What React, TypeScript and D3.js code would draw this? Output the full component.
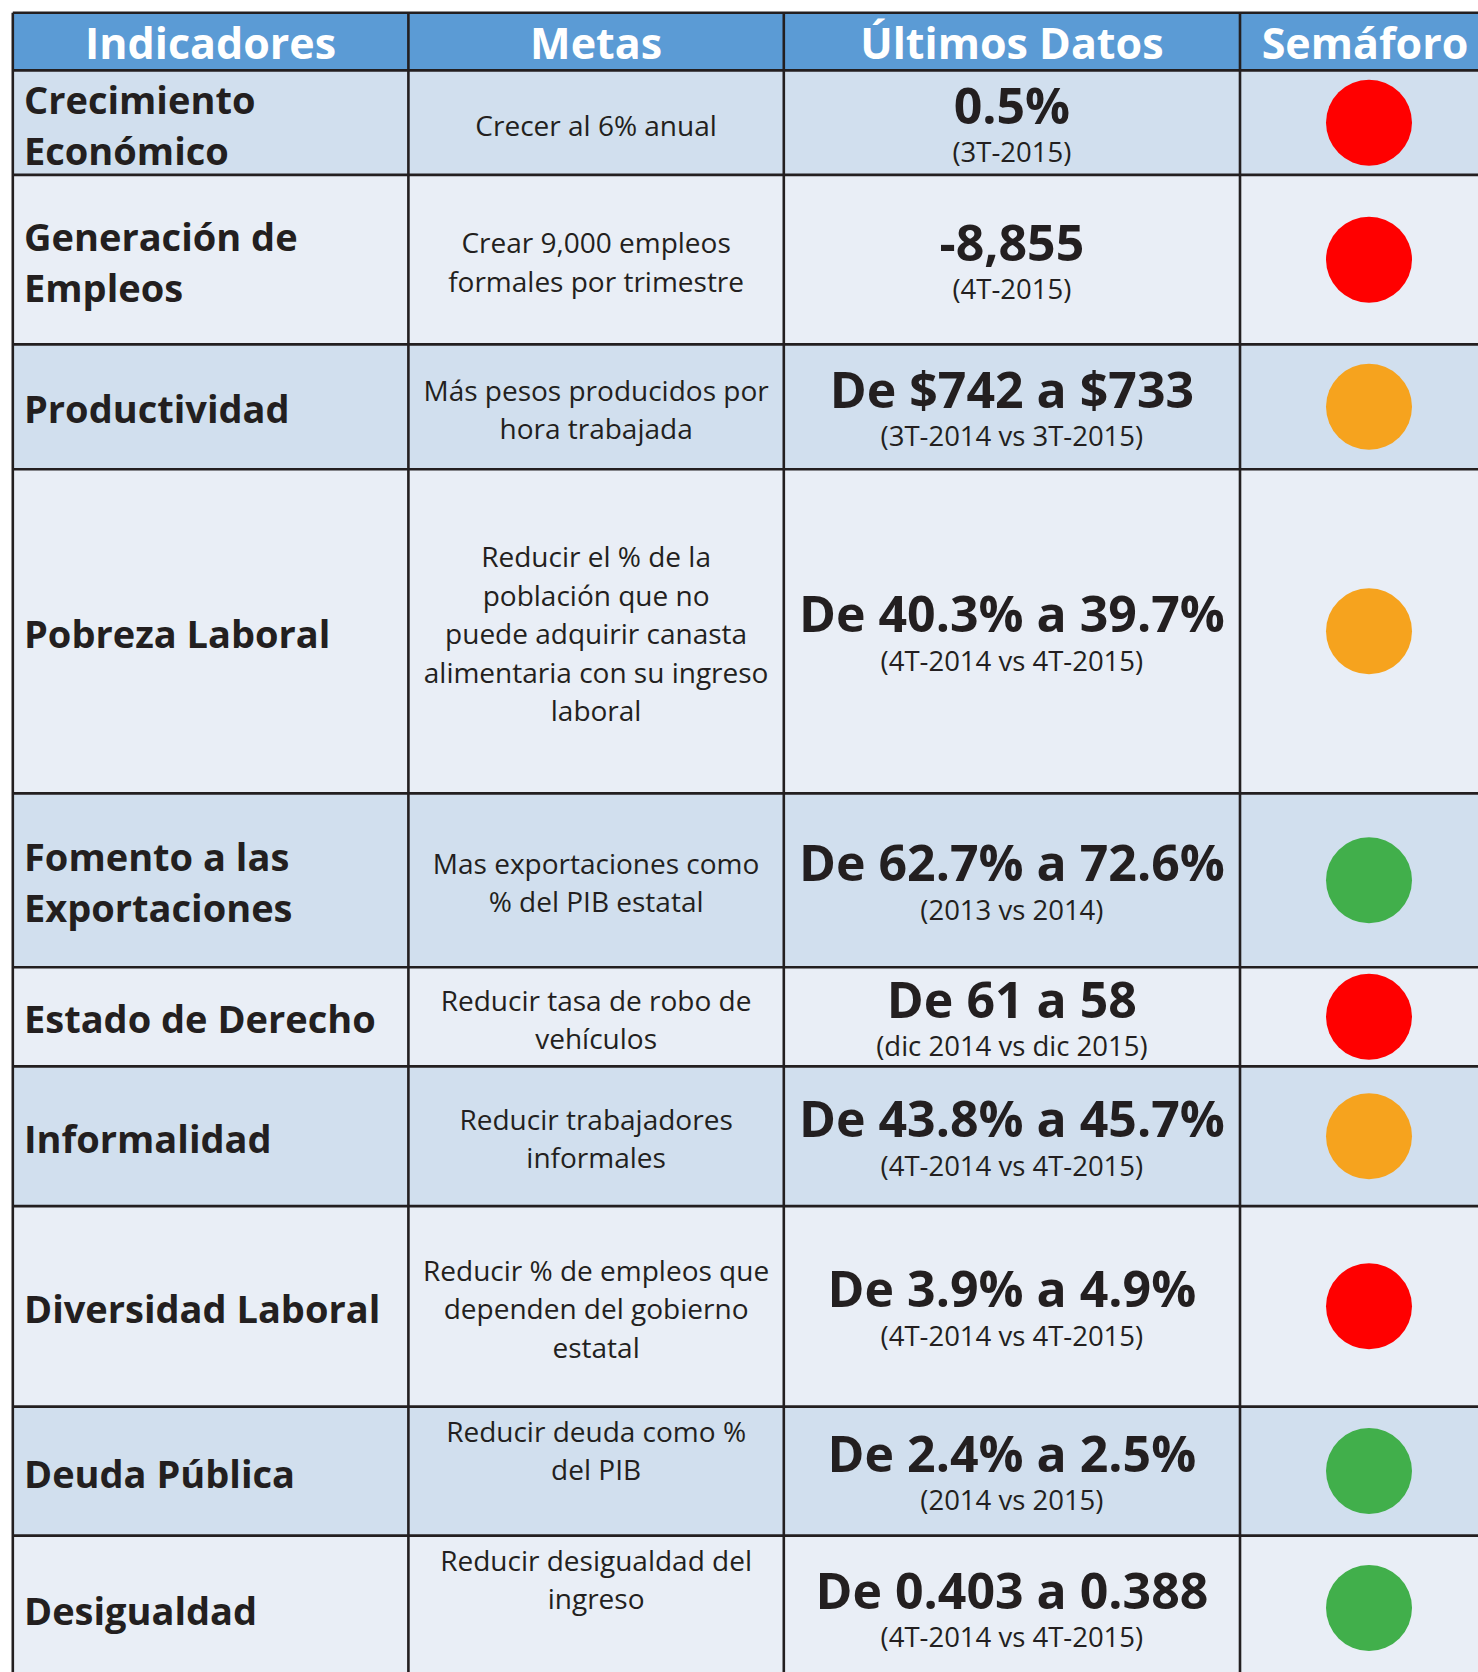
import * as d3 from 'd3';
import React from 'react';

// datos del semáforo
const encabezados = ['Indicadores', 'Metas', 'Últimos Datos', 'Semáforo'];

const indicadores: string[][] = [
  ['Crecimiento', 'Económico'],
  ['Generación de', 'Empleos'],
  ['Productividad'],
  ['Pobreza Laboral'],
  ['Fomento a las', 'Exportaciones'],
  ['Estado de Derecho'],
  ['Informalidad'],
  ['Diversidad Laboral'],
  ['Deuda Pública'],
  ['Desigualdad'],
];

const metas: string[][] = [
  ['Crecer al 6% anual'],
  ['Crear 9,000 empleos', 'formales por trimestre'],
  ['Más pesos producidos por', 'hora trabajada'],
  ['Reducir el % de la', 'población que no', 'puede adquirir canasta', 'alimentaria con su ingreso', 'laboral'],
  ['Mas exportaciones como', '% del PIB estatal'],
  ['Reducir tasa de robo de', 'vehículos'],
  ['Reducir trabajadores', 'informales'],
  ['Reducir % de empleos que', 'dependen del gobierno', 'estatal'],
  ['Reducir deuda como %', 'del PIB'],
  ['Reducir desigualdad del', 'ingreso'],
];

const ultimosDatos = [
  '0.5%', '-8,855', 'De $742 a $733', 'De 40.3% a 39.7%', 'De 62.7% a 72.6%',
  'De 61 a 58', 'De 43.8% a 45.7%', 'De 3.9% a 4.9%', 'De 2.4% a 2.5%', 'De 0.403 a 0.388',
];

const periodos = [
  '(3T-2015)', '(4T-2015)', '(3T-2014 vs 3T-2015)', '(4T-2014 vs 4T-2015)', '(2013 vs 2014)',
  '(dic 2014 vs dic 2015)', '(4T-2014 vs 4T-2015)', '(4T-2014 vs 4T-2015)', '(2014 vs 2015)', '(4T-2014 vs 4T-2015)',
];

const semaforo = ['rojo', 'rojo', 'amarillo', 'amarillo', 'verde', 'rojo', 'amarillo', 'rojo', 'verde', 'verde'];

// layout
const W = 1478;
const H = 1672;
const colEdges = [12.8, 408.4, 783.8, 1240, 1498];
const headerTop = 12.8;
const rowEdges = [70.4, 174.9, 344.4, 469.2, 793.4, 967.2, 1066.4, 1206.1, 1406.6, 1535.6, 1680.4];
const metaTopAligned = new Set([8, 9]);
const headerShift = [0, 0, 0, -4];

const FONT = "'Open Sans', 'Noto Sans', sans-serif";
const INK = '#231F20';
const CAP = 0.714;

const colorSemaforo = d3.scaleOrdinal<string, string>()
  .domain(['rojo', 'amarillo', 'verde'])
  .range(['#FF0000', '#F6A31E', '#41AF4B']);

const App: React.FC = () => {
  const rowFill = (i: number) => (i % 2 === 0 ? '#D1DFEE' : '#E9EEF6');
  const colCenter = (c: number) => (colEdges[c] + colEdges[c + 1]) / 2;

  // baselines for a block of lines centered at cy
  const lineYs = (n: number, cy: number, lh: number, fs: number) =>
    d3.range(n).map(k => cy - ((n - 1) * lh) / 2 + k * lh + (CAP * fs) / 2);

  const labelFs = 38;
  const metaFs = 28;
  const valueFs = 50;
  const subFs = 27.5;

  return (
    <div style={{ position: 'absolute', left: 0, top: 0 }}>
      <svg width={W} height={H} style={{ display: 'block', background: '#fff' }}>
        {/* header */}
        <rect x={colEdges[0]} y={headerTop} width={colEdges[4] - colEdges[0]} height={rowEdges[0] - headerTop} fill="#5B9BD5" />
        {encabezados.map((t, c) => (
          <text key={t} x={colCenter(c) + headerShift[c]} y={59} textAnchor="middle" fontFamily={FONT} fontWeight={700} fontSize={43} fill="#fff">
            {t}
          </text>
        ))}

        {indicadores.map((lab, i) => {
          const y0 = rowEdges[i];
          const y1 = rowEdges[i + 1];
          const cy = (y0 + y1) / 2;
          const labYs = lineYs(lab.length, cy + 3, 51, labelFs);
          const m = metas[i];
          const metaCy = metaTopAligned.has(i) ? y0 + 25.4 + ((m.length - 1) * 38.4) / 2 : cy + 3;
          const metaYs = lineYs(m.length, metaCy, 38.4, metaFs);
          return (
            <g key={i}>
              <rect x={colEdges[0]} y={y0} width={colEdges[4] - colEdges[0]} height={y1 - y0} fill={rowFill(i)} />
              {lab.map((s, k) => (
                <text key={k} x={24} y={labYs[k]} fontFamily={FONT} fontWeight={700} fontSize={labelFs} fill={INK}>
                  {s}
                </text>
              ))}
              {m.map((s, k) => (
                <text key={k} x={colCenter(1)} y={metaYs[k]} textAnchor="middle" fontFamily={FONT} fontSize={metaFs} fill={INK}>
                  {s}
                </text>
              ))}
              <text x={colCenter(2)} y={cy - 17 + (CAP * valueFs) / 2} textAnchor="middle" fontFamily={FONT} fontWeight={700} fontSize={valueFs} fill={INK}>
                {ultimosDatos[i]}
              </text>
              <text x={colCenter(2)} y={cy + 29.5 + (CAP * subFs) / 2} textAnchor="middle" fontFamily={FONT} fontSize={subFs} fill={INK}>
                {periodos[i]}
              </text>
              <circle cx={colCenter(3)} cy={cy} r={43} fill={colorSemaforo(semaforo[i])} />
            </g>
          );
        })}

        {/* grid lines */}
        <g stroke={INK} strokeWidth={2.6}>
          {[headerTop, ...rowEdges].map((y, k) => (
            <line key={'h' + k} x1={colEdges[0]} x2={colEdges[4]} y1={y} y2={y} />
          ))}
          {colEdges.map((x, k) => (
            <line key={'v' + k} x1={x} x2={x} y1={headerTop} y2={rowEdges[rowEdges.length - 1]} />
          ))}
        </g>
      </svg>
    </div>
  );
};

export default App;
